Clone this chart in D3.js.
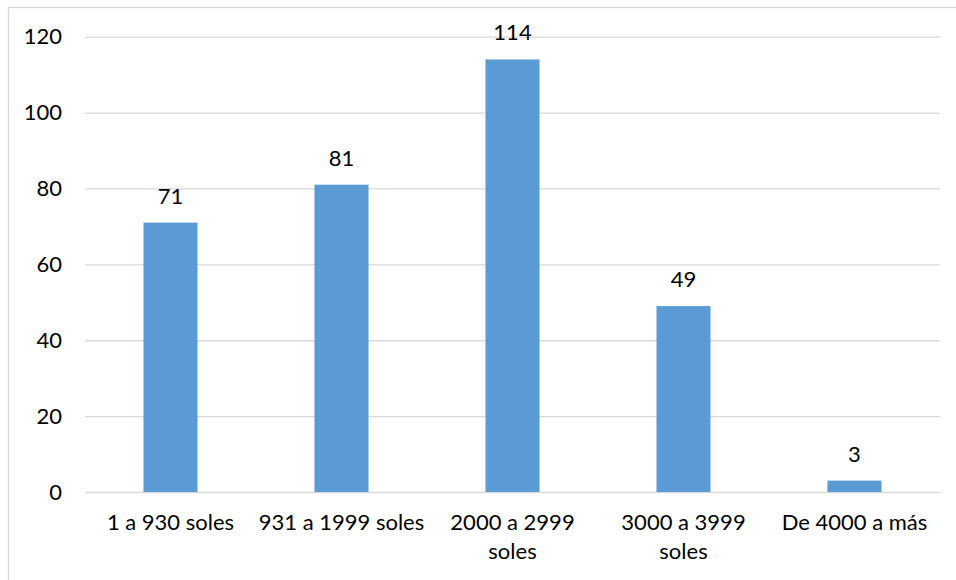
<!DOCTYPE html>
<html>
<head>
<meta charset="utf-8">
<script src="https://cdn.jsdelivr.net/npm/d3@7"></script>
<style>
  html, body { margin: 0; padding: 0; background: #fff; }
  svg { display: block; }
  text { font-family: Lato, "Open Sans", sans-serif; fill: #000; }
</style>
</head>
<body>
<svg id="chart" width="956" height="580"></svg>
<script>
// Income brackets and counts
const categories = [
  ["1 a 930 soles"],
  ["931 a 1999 soles"],
  ["2000 a 2999", "soles"],
  ["3000 a 3999", "soles"],
  ["De 4000 a más"]
];
const values = [71, 81, 114, 49, 3];
const yTicks = [0, 20, 40, 60, 80, 100, 120];

const svg = d3.select("#chart");
const W = 956, H = 580;
const plot = { left: 85, right: 940, top: 36.7, bottom: 492 };
const fontSize = 22;

// chart frame
svg.append("rect")
  .attr("x", 8.5).attr("y", 7.5)
  .attr("width", W + 10).attr("height", H + 10)
  .attr("fill", "none").attr("stroke", "#d9d9d9").attr("stroke-width", 1.3);

const x = d3.scaleBand()
  .domain(d3.range(categories.length))
  .range([plot.left, plot.right])
  .paddingInner(0.684)
  .paddingOuter(0.342);

const y = d3.scaleLinear()
  .domain([0, 120])
  .range([plot.bottom, plot.top]);

// horizontal gridlines and y tick labels
const yAxis = d3.axisLeft(y)
  .tickValues(yTicks)
  .tickSize(-(plot.right - plot.left))
  .tickPadding(23)
  .tickFormat(d3.format("d"));

const gy = svg.append("g")
  .attr("transform", `translate(${plot.left},0)`)
  .call(yAxis);
gy.select(".domain").remove();
gy.selectAll(".tick line").attr("stroke", "#d9d9d9").attr("stroke-width", 1.3);
gy.selectAll(".tick text")
  .attr("font-size", fontSize)
  .attr("font-family", "Lato, 'Open Sans', sans-serif")
  .attr("fill", "#000");

// bars
svg.append("g").selectAll("rect")
  .data(values)
  .join("rect")
  .attr("x", (d, i) => x(i))
  .attr("width", x.bandwidth())
  .attr("y", d => y(d))
  .attr("height", d => y(0) - y(d))
  .attr("fill", "#5b9bd5");

// value labels
svg.append("g").selectAll("text")
  .data(values)
  .join("text")
  .attr("x", (d, i) => x(i) + x.bandwidth() / 2)
  .attr("y", d => y(d) - 19)
  .attr("text-anchor", "middle")
  .attr("font-size", fontSize)
  .text(d => d);

// category labels along the bottom
const gx = svg.append("g");
categories.forEach((lines, i) => {
  const t = gx.append("text")
    .attr("x", x(i) + x.bandwidth() / 2)
    .attr("y", 530)
    .attr("text-anchor", "middle")
    .attr("font-size", fontSize);
  lines.forEach((ln, j) => {
    t.append("tspan")
      .attr("x", x(i) + x.bandwidth() / 2)
      .attr("dy", j === 0 ? 0 : 29)
      .text(ln);
  });
});
</script>
</body>
</html>
